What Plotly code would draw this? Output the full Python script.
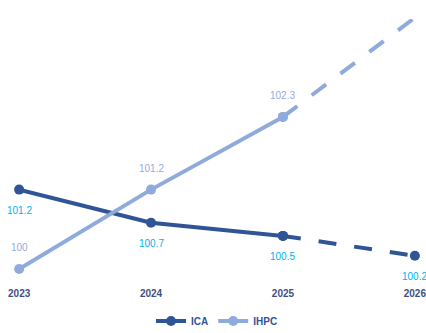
import plotly.graph_objects as go

years = [2023, 2024, 2025, 2026]
year_labels = ["2023", "2024", "2025", "2026"]
ica = [101.2, 100.7, 100.5, 100.2]
ihpc = [100.0, 101.2, 102.3, 103.8]
ica_labels = ["101.2", "100.7", "100.5", "100.2"]
ihpc_labels = ["100", "101.2", "102.3", ""]

ICA_COLOR = "#2f5597"
IHPC_COLOR = "#8faadc"
ICA_LABEL = "#00b0f0"
IHPC_LABEL = "#95abdf"
FONT = "Liberation Sans, Arial, sans-serif"

fig = go.Figure()

def add_series(name, ys, color):
    fig.add_trace(go.Scatter(
        x=years[:3], y=ys[:3], name=name, mode="lines+markers",
        line=dict(color=color, width=4), marker=dict(color=color, size=10),
        cliponaxis=False, legendgroup=name, showlegend=True))
    fig.add_trace(go.Scatter(
        x=years[2:], y=ys[2:], name=name, mode="lines+markers",
        line=dict(color=color, width=4, dash="18px,18px"),
        marker=dict(color=color, size=10),
        cliponaxis=False, legendgroup=name, showlegend=False))

add_series("ICA", ica, ICA_COLOR)
add_series("IHPC", ihpc, IHPC_COLOR)

annotations = []
for x, y, t in zip(years, ica, ica_labels):
    if t:
        annotations.append(dict(x=x, y=y, text=t, showarrow=False, yshift=-21,
                                font=dict(color=ICA_LABEL, size=10, family=FONT)))
for x, y, t in zip(years, ihpc, ihpc_labels):
    if t:
        annotations.append(dict(x=x, y=y, text=t, showarrow=False, yshift=21,
                                font=dict(color=IHPC_LABEL, size=10, family=FONT)))

fig.update_layout(
    width=426, height=333,
    margin=dict(l=19, r=11, t=19, b=50, autoexpand=False),
    paper_bgcolor="white", plot_bgcolor="white",
    font=dict(family=FONT),
    annotations=annotations,
    xaxis=dict(range=[2022.999, 2026.001], tickvals=years, ticktext=year_labels,
               showgrid=False, zeroline=False, showline=False,
               ticklabeloverflow="allow", ticklabelstandoff=3,
               tickfont=dict(size=10, color="#3f4f7f", weight="bold", family=FONT)),
    yaxis=dict(range=[99.788, 103.78], showgrid=False, zeroline=False,
               showline=False, showticklabels=False),
    legend=dict(orientation="h", x=0.5, xanchor="center", y=-0.144, yanchor="middle",
                font=dict(size=10, color="#2f5597", weight="bold", family=FONT),
                itemwidth=30),
)

fig.write_html("out.html")
